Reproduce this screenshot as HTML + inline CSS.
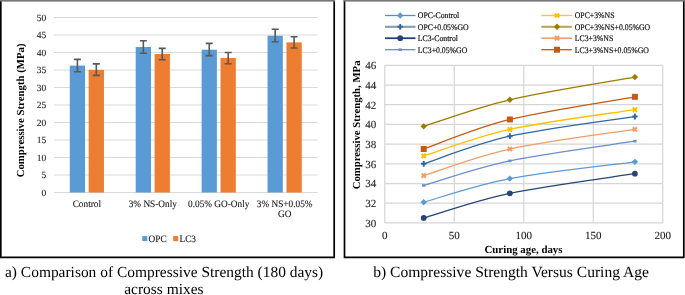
<!DOCTYPE html>
<html><head><meta charset="utf-8"><style>
html,body{margin:0;padding:0;background:#fff;width:685px;height:295px;overflow:hidden}
svg{display:block;will-change:transform}
text{font-family:"Liberation Serif", serif;fill:#000;text-rendering:geometricPrecision}
.yl{font-size:9.5px;fill:#222;stroke:#222;stroke-width:0.1px}
.xl{font-size:9.9px;fill:#1a1a1a;stroke:#1a1a1a;stroke-width:0.12px}
.ryl{font-size:11px;fill:#1a1a1a;stroke:#1a1a1a;stroke-width:0.1px}
.lg{font-size:8.5px;fill:#111;stroke:#111;stroke-width:0.18px}
.yt1{font-size:10.8px;font-weight:bold}
.yt2{font-size:10.85px;font-weight:bold}
.yt3{font-size:10.75px;font-weight:bold}
.cap{font-size:15.45px}
.capb{font-size:15.55px}
</style></head><body>
<svg width="685" height="295" viewBox="0 0 685 295">
<rect width="685" height="295" fill="#fff"/>
<line x1="53.9" x2="317.6" y1="192.5" y2="192.5" stroke="#D9D9D9" stroke-width="1"/>
<text x="46.2" y="195.8" text-anchor="end" class="yl">0</text>
<line x1="53.9" x2="317.6" y1="175" y2="175" stroke="#D9D9D9" stroke-width="1"/>
<text x="46.2" y="178.3" text-anchor="end" class="yl">5</text>
<line x1="53.9" x2="317.6" y1="157.5" y2="157.5" stroke="#D9D9D9" stroke-width="1"/>
<text x="46.2" y="160.8" text-anchor="end" class="yl">10</text>
<line x1="53.9" x2="317.6" y1="140" y2="140" stroke="#D9D9D9" stroke-width="1"/>
<text x="46.2" y="143.3" text-anchor="end" class="yl">15</text>
<line x1="53.9" x2="317.6" y1="122.5" y2="122.5" stroke="#D9D9D9" stroke-width="1"/>
<text x="46.2" y="125.8" text-anchor="end" class="yl">20</text>
<line x1="53.9" x2="317.6" y1="105" y2="105" stroke="#D9D9D9" stroke-width="1"/>
<text x="46.2" y="108.3" text-anchor="end" class="yl">25</text>
<line x1="53.9" x2="317.6" y1="87.5" y2="87.5" stroke="#D9D9D9" stroke-width="1"/>
<text x="46.2" y="90.8" text-anchor="end" class="yl">30</text>
<line x1="53.9" x2="317.6" y1="70" y2="70" stroke="#D9D9D9" stroke-width="1"/>
<text x="46.2" y="73.3" text-anchor="end" class="yl">35</text>
<line x1="53.9" x2="317.6" y1="52.5" y2="52.5" stroke="#D9D9D9" stroke-width="1"/>
<text x="46.2" y="55.8" text-anchor="end" class="yl">40</text>
<line x1="53.9" x2="317.6" y1="35" y2="35" stroke="#D9D9D9" stroke-width="1"/>
<text x="46.2" y="38.3" text-anchor="end" class="yl">45</text>
<line x1="53.9" x2="317.6" y1="17.5" y2="17.5" stroke="#D9D9D9" stroke-width="1"/>
<text x="46.2" y="20.8" text-anchor="end" class="yl">50</text>
<rect x="69.76" y="65.6" width="15.3" height="126.9" fill="#5B9BD5"/>
<rect x="88.66" y="69.9" width="15.3" height="122.6" fill="#ED7D31"/>
<path d="M77.41 59.4V71.8M73.91 59.4H80.91M73.91 71.8H80.91" stroke="#595959" stroke-width="1.6" fill="none"/>
<path d="M96.31 63.9V75.4M92.81 63.9H99.81M92.81 75.4H99.81" stroke="#595959" stroke-width="1.6" fill="none"/>
<text transform="translate(86.86 206.6) scale(0.94 1)" text-anchor="middle" class="xl">Control</text>
<rect x="135.69" y="47" width="15.3" height="145.5" fill="#5B9BD5"/>
<rect x="154.59" y="54" width="15.3" height="138.5" fill="#ED7D31"/>
<path d="M143.34 40.7V53.3M139.84 40.7H146.84M139.84 53.3H146.84" stroke="#595959" stroke-width="1.6" fill="none"/>
<path d="M162.24 48.4V59.7M158.74 48.4H165.74M158.74 59.7H165.74" stroke="#595959" stroke-width="1.6" fill="none"/>
<text transform="translate(152.79 206.6) scale(0.94 1)" text-anchor="middle" class="xl">3% NS-Only</text>
<rect x="201.61" y="49.7" width="15.3" height="142.8" fill="#5B9BD5"/>
<rect x="220.51" y="58" width="15.3" height="134.5" fill="#ED7D31"/>
<path d="M209.26 43.4V55.6M205.76 43.4H212.76M205.76 55.6H212.76" stroke="#595959" stroke-width="1.6" fill="none"/>
<path d="M228.16 52.5V63.7M224.66 52.5H231.66M224.66 63.7H231.66" stroke="#595959" stroke-width="1.6" fill="none"/>
<text transform="translate(218.71 206.6) scale(0.94 1)" text-anchor="middle" class="xl">0.05% GO-Only</text>
<rect x="267.54" y="35.7" width="15.3" height="156.8" fill="#5B9BD5"/>
<rect x="286.44" y="42.4" width="15.3" height="150.1" fill="#ED7D31"/>
<path d="M275.19 29.3V41.8M271.69 29.3H278.69M271.69 41.8H278.69" stroke="#595959" stroke-width="1.6" fill="none"/>
<path d="M294.09 36.7V48M290.59 36.7H297.59M290.59 48H297.59" stroke="#595959" stroke-width="1.6" fill="none"/>
<text transform="translate(284.64 206.6) scale(0.94 1)" text-anchor="middle" class="xl">3% NS+0.05%</text>
<text transform="translate(284.64 216.7) scale(0.94 1)" text-anchor="middle" class="xl">GO</text>
<rect x="142.3" y="236.1" width="5" height="5" fill="#5B9BD5"/>
<text transform="translate(148.6 241.5) scale(0.94 1)" class="xl">OPC</text>
<rect x="173.2" y="236.1" width="5" height="5" fill="#ED7D31"/>
<text transform="translate(179.5 241.5) scale(0.94 1)" class="xl">LC3</text>
<text transform="translate(23.9 110.4) rotate(-90)" text-anchor="middle" class="yt1">Compressive Strength (MPa)</text>
<line x1="384.8" x2="662.7" y1="222.9" y2="222.9" stroke="#D6D6D6" stroke-width="1.25"/>
<text x="376.3" y="226.7" text-anchor="end" class="ryl">30</text>
<line x1="384.8" x2="662.7" y1="203.2" y2="203.2" stroke="#D6D6D6" stroke-width="1.25"/>
<text x="376.3" y="207" text-anchor="end" class="ryl">32</text>
<line x1="384.8" x2="662.7" y1="183.5" y2="183.5" stroke="#D6D6D6" stroke-width="1.25"/>
<text x="376.3" y="187.3" text-anchor="end" class="ryl">34</text>
<line x1="384.8" x2="662.7" y1="163.8" y2="163.8" stroke="#D6D6D6" stroke-width="1.25"/>
<text x="376.3" y="167.6" text-anchor="end" class="ryl">36</text>
<line x1="384.8" x2="662.7" y1="144.1" y2="144.1" stroke="#D6D6D6" stroke-width="1.25"/>
<text x="376.3" y="147.9" text-anchor="end" class="ryl">38</text>
<line x1="384.8" x2="662.7" y1="124.4" y2="124.4" stroke="#D6D6D6" stroke-width="1.25"/>
<text x="376.3" y="128.2" text-anchor="end" class="ryl">40</text>
<line x1="384.8" x2="662.7" y1="104.7" y2="104.7" stroke="#D6D6D6" stroke-width="1.25"/>
<text x="376.3" y="108.5" text-anchor="end" class="ryl">42</text>
<line x1="384.8" x2="662.7" y1="85" y2="85" stroke="#D6D6D6" stroke-width="1.25"/>
<text x="376.3" y="88.8" text-anchor="end" class="ryl">44</text>
<line x1="384.8" x2="662.7" y1="65.3" y2="65.3" stroke="#D6D6D6" stroke-width="1.25"/>
<text x="376.3" y="69.1" text-anchor="end" class="ryl">46</text>
<line x1="384.8" x2="384.8" y1="65.3" y2="222.9" stroke="#D6D6D6" stroke-width="1.25"/>
<text x="384.8" y="239.3" text-anchor="middle" class="ryl">0</text>
<line x1="454.28" x2="454.28" y1="65.3" y2="222.9" stroke="#D6D6D6" stroke-width="1.25"/>
<text x="454.28" y="239.3" text-anchor="middle" class="ryl">50</text>
<line x1="523.75" x2="523.75" y1="65.3" y2="222.9" stroke="#D6D6D6" stroke-width="1.25"/>
<text x="523.75" y="239.3" text-anchor="middle" class="ryl">100</text>
<line x1="593.23" x2="593.23" y1="65.3" y2="222.9" stroke="#D6D6D6" stroke-width="1.25"/>
<text x="593.23" y="239.3" text-anchor="middle" class="ryl">150</text>
<line x1="662.7" x2="662.7" y1="65.3" y2="222.9" stroke="#D6D6D6" stroke-width="1.25"/>
<text x="662.7" y="239.3" text-anchor="middle" class="ryl">200</text>
<path d="M423.71 202.21C438.06 198.27 474.65 185.31 509.86 178.57C545.06 171.84 614.07 164.62 634.91 161.83" stroke="#5B9BD5" stroke-width="1.3" fill="none"/>
<path d="M423.71 163.8C438.06 159.2 474.65 144.1 509.86 136.22C545.06 128.34 614.07 119.8 634.91 116.52" stroke="#2F67A3" stroke-width="1.3" fill="none"/>
<path d="M423.71 217.97C438.06 213.87 474.65 200.74 509.86 193.35C545.06 185.96 614.07 176.93 634.91 173.65" stroke="#264478" stroke-width="1.3" fill="none"/>
<path d="M423.71 185.47C438.06 181.37 474.65 168.23 509.86 160.85C545.06 153.46 614.07 144.43 634.91 141.15" stroke="#698ED0" stroke-width="1.3" fill="none"/>
<path d="M423.71 155.92C438.06 151.49 474.65 137.04 509.86 129.32C545.06 121.61 614.07 112.91 634.91 109.62" stroke="#FFC000" stroke-width="1.3" fill="none"/>
<path d="M423.71 126.37C438.06 121.94 474.65 107.98 509.86 99.77C545.06 91.57 614.07 80.9 634.91 77.12" stroke="#9E7B00" stroke-width="1.3" fill="none"/>
<path d="M423.71 175.62C438.06 171.19 474.65 156.74 509.86 149.02C545.06 141.31 614.07 132.61 634.91 129.32" stroke="#F09E68" stroke-width="1.3" fill="none"/>
<path d="M423.71 149.02C438.06 144.1 474.65 128.18 509.86 119.47C545.06 110.77 614.07 100.6 634.91 96.82" stroke="#C55A11" stroke-width="1.3" fill="none"/>
<path d="M423.71 199.01L426.91 202.21L423.71 205.41L420.51 202.21Z" fill="#5B9BD5"/>
<path d="M509.86 175.38L513.06 178.57L509.86 181.77L506.66 178.57Z" fill="#5B9BD5"/>
<path d="M634.91 158.63L638.11 161.83L634.91 165.03L631.71 161.83Z" fill="#5B9BD5"/>
<path d="M421.01 163.8H426.41M423.71 160.9V166.7" stroke="#2F67A3" stroke-width="1.9" fill="none"/>
<path d="M507.16 136.22H512.56M509.86 133.32V139.12" stroke="#2F67A3" stroke-width="1.9" fill="none"/>
<path d="M632.21 116.52H637.61M634.91 113.62V119.42" stroke="#2F67A3" stroke-width="1.9" fill="none"/>
<circle cx="423.71" cy="217.97" r="2.9" fill="#264478"/>
<circle cx="509.86" cy="193.35" r="2.9" fill="#264478"/>
<circle cx="634.91" cy="173.65" r="2.9" fill="#264478"/>
<rect x="422.01" y="184.17" width="3.4" height="2.6" fill="#698ED0"/>
<rect x="508.16" y="159.55" width="3.4" height="2.6" fill="#698ED0"/>
<rect x="633.21" y="139.85" width="3.4" height="2.6" fill="#698ED0"/>
<path d="M421.61 153.82L425.81 158.02M425.81 153.82L421.61 158.02" stroke="#FFC000" stroke-width="2.1" fill="none"/>
<path d="M507.75 127.22L511.96 131.42M511.96 127.22L507.75 131.42" stroke="#FFC000" stroke-width="2.1" fill="none"/>
<path d="M632.81 107.52L637.01 111.72M637.01 107.52L632.81 111.72" stroke="#FFC000" stroke-width="2.1" fill="none"/>
<path d="M423.71 123.17L426.91 126.37L423.71 129.57L420.51 126.37Z" fill="#9E7B00"/>
<path d="M509.86 96.57L513.06 99.77L509.86 102.97L506.66 99.77Z" fill="#9E7B00"/>
<path d="M634.91 73.92L638.11 77.12L634.91 80.32L631.71 77.12Z" fill="#9E7B00"/>
<path d="M421.61 173.52L425.81 177.72M425.81 173.52L421.61 177.72" stroke="#F09E68" stroke-width="2.1" fill="none"/>
<path d="M507.75 146.92L511.96 151.12M511.96 146.92L507.75 151.12" stroke="#F09E68" stroke-width="2.1" fill="none"/>
<path d="M632.81 127.22L637.01 131.42M637.01 127.22L632.81 131.42" stroke="#F09E68" stroke-width="2.1" fill="none"/>
<rect x="420.71" y="146.02" width="6" height="6" fill="#C55A11"/>
<rect x="506.86" y="116.47" width="6" height="6" fill="#C55A11"/>
<rect x="631.91" y="93.82" width="6" height="6" fill="#C55A11"/>
<line x1="385.0" x2="415.5" y1="15.5" y2="15.5" stroke="#5A8CC4" stroke-width="1.3"/>
<path d="M400.2 12.3L403.4 15.5L400.2 18.7L397 15.5Z" fill="#5B9BD5"/>
<text transform="translate(417.8 18.4) scale(0.915 1)" class="lg">OPC-Control</text>
<line x1="385.0" x2="415.5" y1="26.8" y2="26.8" stroke="#7F9DB8" stroke-width="2.1"/>
<path d="M397.5 26.8H402.9M400.2 23.9V29.7" stroke="#2F67A3" stroke-width="1.9" fill="none"/>
<text transform="translate(417.8 29.7) scale(0.915 1)" class="lg">OPC+0.05%GO</text>
<line x1="385.0" x2="415.5" y1="38.2" y2="38.2" stroke="#264478" stroke-width="1.8"/>
<circle cx="400.2" cy="38.2" r="2.9" fill="#264478"/>
<text transform="translate(417.8 41.1) scale(0.915 1)" class="lg">LC3-Control</text>
<line x1="385.0" x2="415.5" y1="49.7" y2="49.7" stroke="#698ED0" stroke-width="1.3"/>
<rect x="398.5" y="48.4" width="3.4" height="2.6" fill="#698ED0"/>
<text transform="translate(417.8 52.6) scale(0.915 1)" class="lg">LC3+0.05%GO</text>
<line x1="541.3" x2="572.0" y1="15.5" y2="15.5" stroke="#F2C444" stroke-width="1.3"/>
<path d="M554.9 13.4L559.1 17.6M559.1 13.4L554.9 17.6" stroke="#FFC000" stroke-width="2.1" fill="none"/>
<text transform="translate(574.7 18.4) scale(0.915 1)" class="lg">OPC+3%NS</text>
<line x1="541.3" x2="572.0" y1="26.8" y2="26.8" stroke="#BAA55C" stroke-width="2.1"/>
<path d="M557 23.6L560.2 26.8L557 30L553.8 26.8Z" fill="#9E7B00"/>
<text transform="translate(574.7 29.7) scale(0.915 1)" class="lg">OPC+3%NS+0.05%GO</text>
<line x1="541.3" x2="572.0" y1="38.2" y2="38.2" stroke="#F09E68" stroke-width="1.6"/>
<path d="M554.9 36.1L559.1 40.3M559.1 36.1L554.9 40.3" stroke="#F09E68" stroke-width="2.1" fill="none"/>
<text transform="translate(574.7 41.1) scale(0.915 1)" class="lg">LC3+3%NS</text>
<line x1="541.3" x2="572.0" y1="49.7" y2="49.7" stroke="#C55A11" stroke-width="1.3"/>
<rect x="554" y="46.7" width="6" height="6" fill="#C55A11"/>
<text transform="translate(574.7 52.6) scale(0.915 1)" class="lg">LC3+3%NS+0.05%GO</text>
<text x="523.5" y="252.8" text-anchor="middle" class="yt2">Curing age, days</text>
<text transform="translate(360.0 124.9) rotate(-90)" text-anchor="middle" class="yt3">Compressive Strength, MPa</text>
<path d="M0.8 0V257.4H334.2V0" stroke="#000" stroke-width="1.7" fill="none"/>
<path d="M344.5 0V257.4H683.8V0" stroke="#000" stroke-width="1.7" fill="none"/>
<rect x="0" y="0" width="335" height="1.6" fill="#777"/>
<rect x="343.7" y="0" width="341.3" height="1.6" fill="#777"/>
<text x="164.1" y="277.4" text-anchor="middle" class="cap">a) Comparison of Compressive Strength (180 days)</text>
<text x="163.9" y="294.3" text-anchor="middle" class="cap">across mixes</text>
<text x="511.1" y="277.2" text-anchor="middle" class="capb">b) Compressive Strength Versus Curing Age</text>
</svg>
</body></html>
